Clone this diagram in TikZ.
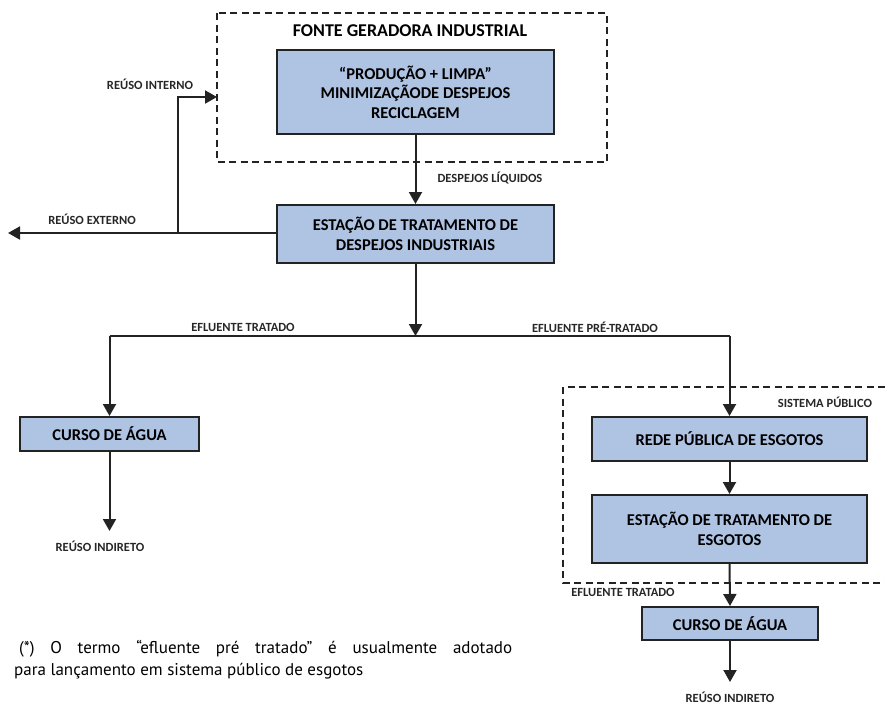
\documentclass[tikz,border=0pt]{standalone}
\usepackage{fontspec}
\setmainfont{Carlito}
\newfontfamily\footfont{PT Sans}
\usetikzlibrary{arrows.meta}
\definecolor{boxblue}{RGB}{175,195,226}
\definecolor{edge}{RGB}{35,35,35}
\tikzset{
  box/.style={draw=edge, line width=2pt, fill=boxblue, font=\bfseries\fontsize{16.5}{19.5}\selectfont, align=center, inner sep=0pt},
  conn/.style={draw=edge, line width=2pt},
  arr/.style={conn, -{Triangle[width=13pt,length=12pt]}},
  lbl/.style={font=\bfseries\fontsize{12.5}{14}\selectfont, text=black!85, inner sep=0pt},
  frame/.style={draw=edge, line width=2pt, dash pattern=on 7pt off 4.5pt}
}
\begin{document}
\begin{tikzpicture}[x=1pt,y=-1pt]
\useasboundingbox (0,0) rectangle (885,707);
% dashed frames
\draw[frame] (217,13) rectangle (607,162);
\draw[frame] (885,387) -- (563,387) -- (563,583) -- (885,583);
\node[font=\bfseries\fontsize{18}{20}\selectfont, inner sep=0pt] (fonte) at (410,31) {FONTE GERADORA INDUSTRIAL};
\node[lbl] (sist) at (825,402) {SISTEMA PÚBLICO};
% boxes
\node[box, minimum width=277pt, minimum height=84pt] (b1) at (415.5,92) {“PRODUÇÃO + LIMPA”\\MINIMIZAÇÃODE DESPEJOS\\RECICLAGEM};
\node[box, minimum width=277pt, minimum height=58pt] (b2) at (415.5,234) {ESTAÇÃO DE TRATAMENTO DE\\DESPEJOS INDUSTRIAIS};
\node[box, minimum width=179pt, minimum height=34pt] (c1) at (109.5,434) {CURSO DE ÁGUA};
\node[box, minimum width=275pt, minimum height=44pt] (rede) at (729.5,439) {REDE PÚBLICA DE ESGOTOS};
\node[box, minimum width=275pt, minimum height=68pt] (ete) at (729.5,529) {ESTAÇÃO DE TRATAMENTO DE\\ESGOTOS};
\node[box, minimum width=176pt, minimum height=33pt] (c2) at (730,623.5) {CURSO DE ÁGUA};
% coordinates
\coordinate (j) at (b2.south |- 0,336);
\coordinate (jl) at (c1.north |- 0,336);
\coordinate (jr) at (rede.north |- 0,336);
\coordinate (rx) at (178,233);
\coordinate (ext) at (8,233);
\coordinate (int) at (217,97);
\coordinate (ri1) at (c1.south |- 0,531);
\coordinate (ri2) at (c2.south |- 0,682);
% connectors
\draw[arr] (b1.south) -- (b2.north);
\draw[arr] (b2.south) -- (j);
\draw[conn] (jl) -- (jr);
\draw[arr] (jl) -- (c1.north);
\draw[arr] (jr) -- (rede.north);
\draw[arr] (b2.west |- rx) -- (ext);
\draw[arr] (rx) |- (int);
\draw[arr] (rede.south) -- (ete.north);
\draw[arr] (ete.south) -- (c2.north);
\draw[arr] (c1.south) -- (ri1);
\draw[arr] (c2.south) -- (ri2);
% labels
\node[lbl] (lliq) at (490,178) {DESPEJOS LÍQUIDOS};
\node[lbl] (lint) at (150,84) {REÚSO INTERNO};
\node[lbl] (lext) at (92,219) {REÚSO EXTERNO};
\node[lbl] (let) at (243,327) {EFLUENTE TRATADO};
\node[lbl] (lept) at (595,327) {EFLUENTE PRÉ-TRATADO};
\node[lbl] (lri1) at (100,546) {REÚSO INDIRETO};
\node[lbl] (let2) at (623,592) {EFLUENTE TRATADO};
\node[lbl] (lri2) at (730,697) {REÚSO INDIRETO};
% footnote
\node[anchor=north west, inner sep=0pt, text width=498pt, align=justify, font=\footfont\fontsize{17}{22}\selectfont] (note) at (14,640) {\hspace*{5pt}(*) O termo “efluente pré tratado” é usualmente adotado\linebreak para lançamento em sistema público de esgotos};
\end{tikzpicture}
\end{document}
